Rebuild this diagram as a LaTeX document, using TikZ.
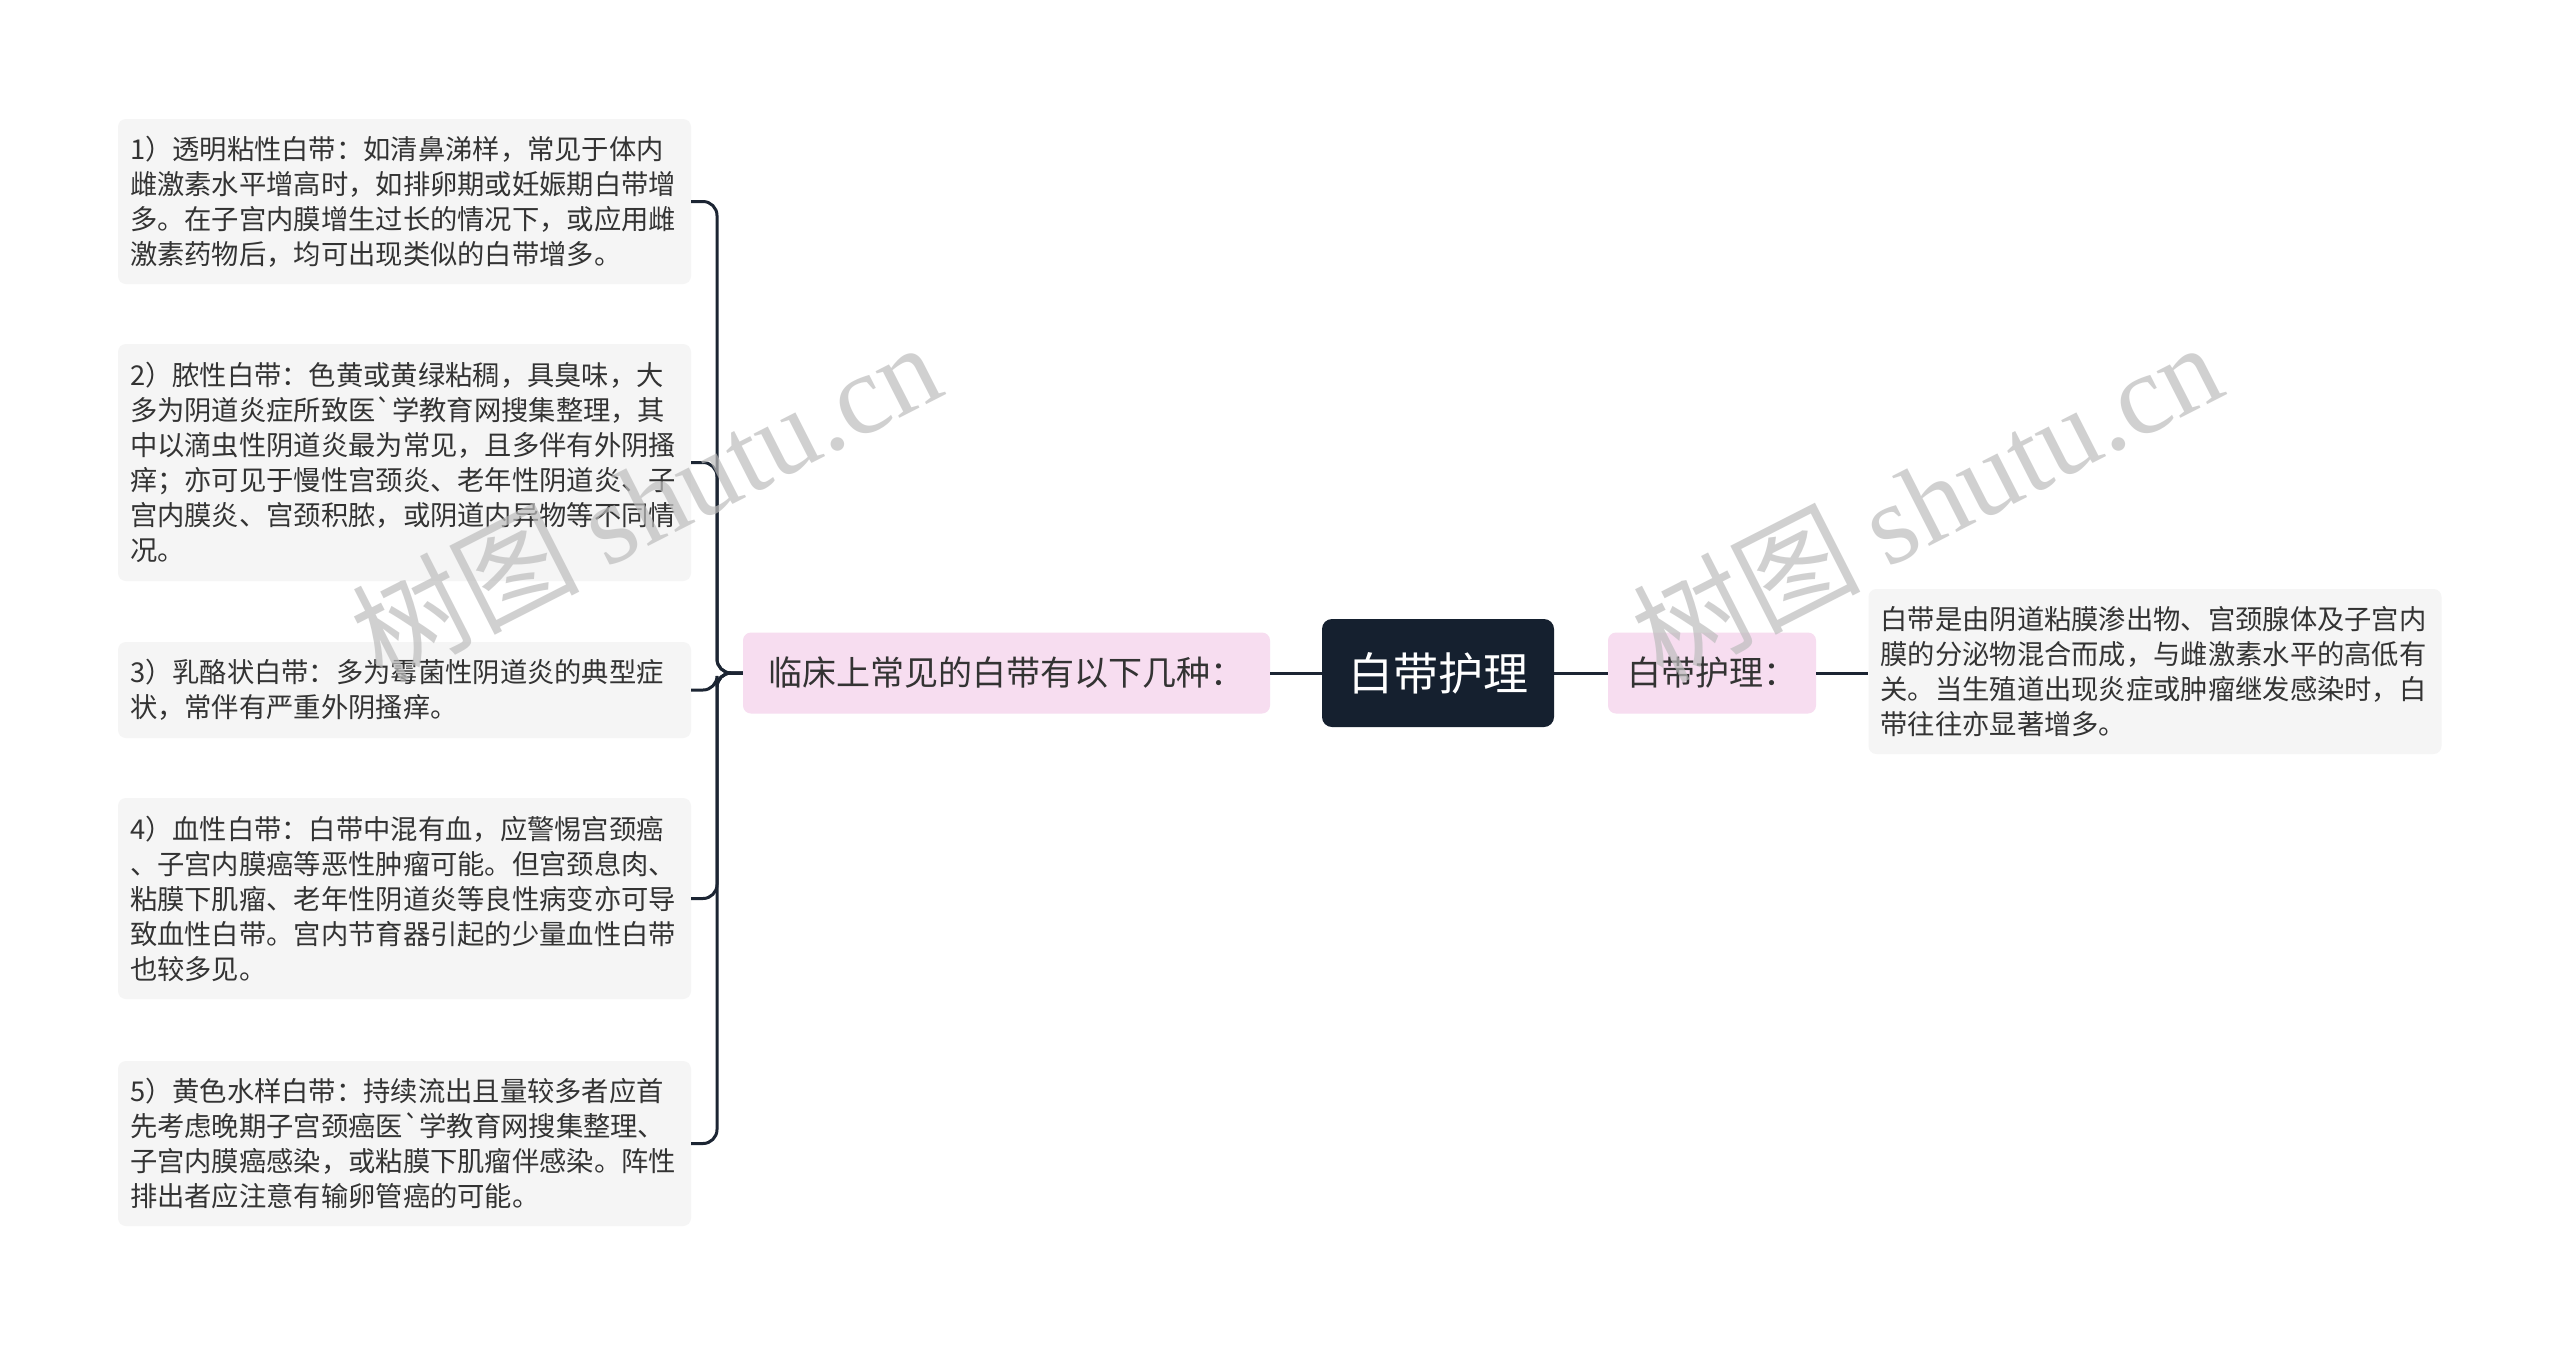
\documentclass[tikz,border=0pt]{standalone}
\usepackage{fontspec}
\newfontfamily\cjk{Noto Sans CJK SC}
\newfontfamily\wmserif{Liberation Serif}
\definecolor{boxgray}{HTML}{F5F5F5}
\definecolor{pinkfill}{HTML}{F7DDF0}
\definecolor{navy}{HTML}{15202F}
\definecolor{linec}{HTML}{1C2533}
\definecolor{txt}{HTML}{333333}
\definecolor{wmc}{HTML}{BDBDBD}
\tikzset{
  graybox/.style={fill=boxgray, rounded corners=8pt, text width=549pt, inner xsep=12pt, inner ysep=0pt,
    align=left, text=txt, font={\cjk\fontsize{27.3}{35}\selectfont}},
  pinkbox/.style={fill=pinkfill, rounded corners=8pt, minimum height=81pt, inner xsep=18pt, text=txt,
    font={\cjk\fontsize{34}{40}\selectfont}},
  rootbox/.style={fill=navy, rounded corners=10pt, minimum width=232pt, minimum height=108pt, text=white,
    font={\cjk\fontsize{45}{50}\selectfont}},
  conn/.style={draw=linec, line width=3pt, rounded corners=14pt},
  wm/.style={text=wmc, opacity=0.7, font={\cjk\fontsize{114}{120}\selectfont}}
}
\begin{document}
\begin{tikzpicture}[x=1pt,y=-1pt]
\clip (0,0) rectangle (2560,1345);
\fill[white] (0,0) rectangle (2560,1345);

\node[rootbox] (root) at (1438,673) {白带护理};
\node[pinkbox, minimum width=527pt] (p1) at (1006.5,673) {临床上常见的白带有以下几种：};
\node[pinkbox, minimum width=208pt] (p2) at (1712,673) {白带护理：};

\node[graybox, minimum height=165pt] (r1) at (2155,671.5) {白带是由阴道粘膜渗出物、宫颈腺体及子宫内\\膜的分泌物混合而成，与雌激素水平的高低有\\关。当生殖道出现炎症或肿瘤继发感染时，白\\带往往亦显著增多。};

\node[graybox, minimum height=165pt] (b1) at (404.5,201.5) {1）透明粘性白带：如清鼻涕样，常见于体内\\雌激素水平增高时，如排卵期或妊娠期白带增\\多。在子宫内膜增生过长的情况下，或应用雌\\激素药物后，均可出现类似的白带增多。};
\node[graybox, minimum height=237pt] (b2) at (404.5,462.5) {2）脓性白带：色黄或黄绿粘稠，具臭味，大\\多为阴道炎症所致医`学教育网搜集整理，其\\中以滴虫性阴道炎最为常见，且多伴有外阴搔\\痒；亦可见于慢性宫颈炎、老年性阴道炎、子\\宫内膜炎、宫颈积脓，或阴道内异物等不同情\\况。};
\node[graybox, minimum height=96pt] (b3) at (404.5,690) {3）乳酪状白带：多为霉菌性阴道炎的典型症\\状，常伴有严重外阴搔痒。};
\node[graybox, minimum height=201pt] (b4) at (404.5,898.5) {4）血性白带：白带中混有血，应警惕宫颈癌\\、子宫内膜癌等恶性肿瘤可能。但宫颈息肉、\\粘膜下肌瘤、老年性阴道炎等良性病变亦可导\\致血性白带。宫内节育器引起的少量血性白带\\也较多见。};
\node[graybox, minimum height=165pt] (b5) at (404.5,1143.5) {5）黄色水样白带：持续流出且量较多者应首\\先考虑晚期子宫颈癌医`学教育网搜集整理、\\子宫内膜癌感染，或粘膜下肌瘤伴感染。阵性\\排出者应注意有输卵管癌的可能。};

\coordinate (bar) at (717,673);
\draw[conn] (root.west) -- (p1.east);
\draw[conn] (root.east) -- (p2.west);
\draw[conn] (p2.east) -- (r1.west |- p2.east);
\foreach \b in {b1,b2,b3,b4,b5}{
  \draw[conn] (p1.west) -- (bar) |- (\b.east);
}

\node[wm, rotate=27] (wm1) at (645,500) {树图 {\wmserif shutu.cn}};
\node[wm, rotate=27] (wm2) at (1926,500) {树图 {\wmserif shutu.cn}};
\node[wm, rotate=27] (wm3) at (615,1505) {树图 {\wmserif shutu.cn}};
\node[wm, rotate=27] (wm4) at (1895,1505) {树图 {\wmserif shutu.cn}};
\end{tikzpicture}
\end{document}
